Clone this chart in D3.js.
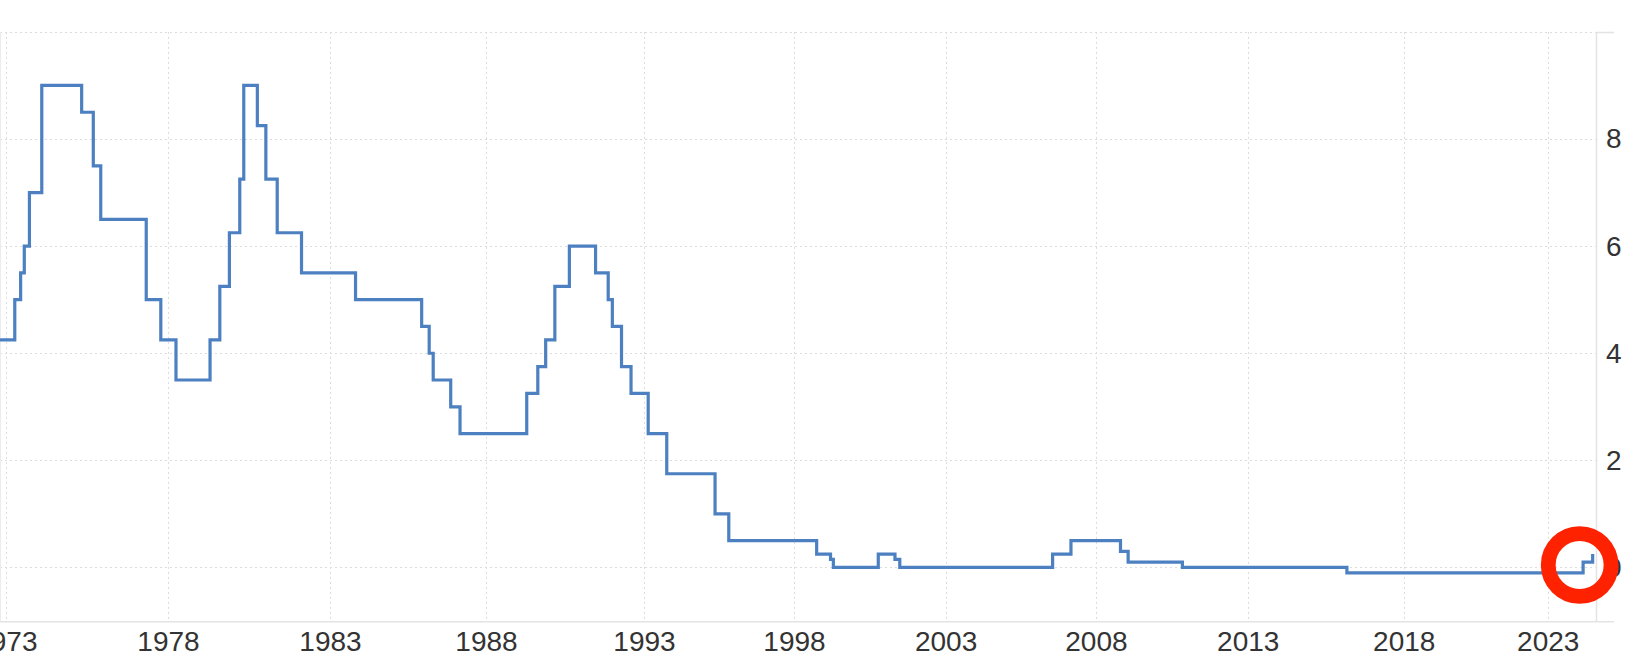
<!DOCTYPE html>
<html>
<head>
<meta charset="utf-8">
<script src="https://cdn.jsdelivr.net/npm/d3@7"></script>
<style>
  html, body { margin: 0; padding: 0; background: #fff; }
  svg { display: block; }
  text { font-family: "Liberation Sans", Arial, Helvetica, sans-serif; fill: #333; }
</style>
</head>
<body>
<svg id="chart" width="1642" height="670"></svg>
<script>
// ---- data: policy rate step changes (date of change, new rate %) ----
const changeDates = [
  "1972-07-01","1973-04-12","1973-06-17","1973-07-28","1973-09-24","1974-02-10",
  "1975-05-05","1975-09-13","1975-12-06","1977-05-01","1977-10-12","1978-04-01",
  "1979-04-20","1979-08-08","1979-11-24","1980-03-20","1980-05-04","1980-10-04",
  "1981-01-08","1981-05-16","1982-02-14","1983-10-27","1985-12-09","1986-03-07",
  "1986-04-23","1986-11-14","1987-03-03","1989-04-16","1989-08-22","1989-11-21",
  "1990-03-07","1990-08-22","1991-06-21","1991-11-14","1992-01-01","1992-04-16",
  "1992-08-04","1993-02-21","1993-10-05","1995-05-16","1995-10-30","1998-10-01",
  "1999-03-17","1999-04-20","2000-10-12","2001-05-01","2001-06-28","2006-07-24",
  "2007-03-04","2008-10-23","2009-01-23","2010-11-07","2016-03-07","2024-03-25",
  "2024-07-24"
];
const rateValues = [
  4.25, 5.00, 5.50, 6.00, 7.00, 9.00,
  8.50, 7.50, 6.50, 5.00, 4.25, 3.50,
  4.25, 5.25, 6.25, 7.25, 9.00, 8.25,
  7.25, 6.25, 5.50, 5.00, 4.50, 4.00,
  3.50, 3.00, 2.50, 3.25, 3.75, 4.25,
  5.25, 6.00, 5.50, 5.00, 4.50, 3.75,
  3.25, 2.50, 1.75, 1.00, 0.50, 0.25,
  0.15, 0.00, 0.25, 0.15, 0.00, 0.25,
  0.50, 0.30, 0.10, 0.00, -0.10, 0.10,
  0.25
];
const xTickYears = [1973,1978,1983,1988,1993,1998,2003,2008,2013,2018,2023];
const yTickValues = [0, 2, 4, 6, 8, 10];
const yTickLabels = ["0", "2", "4", "6", "8", ""];

// ---- layout ----
const W = 1642, H = 670;
const plot = { left: 0, right: 1596, top: 31.9, bottom: 621 };
// the source axis is ordinal-like: year ticks are not evenly spaced
const tickPixels = [5.8, 168, 330, 486, 644, 794, 945.6, 1095.9, 1247.7, 1403.7, 1547.7];

const parse = d3.timeParse("%Y-%m-%d");
const data = changeDates.map((d, i) => ({ date: parse(d), value: rateValues[i] }));
const tickDates = xTickYears.map(y => new Date(y, 0, 1));

const x = d3.scaleTime().domain(tickDates).range(tickPixels);
const y = d3.scaleLinear().domain([-1, 10]).range([plot.bottom, plot.top]);

const svg = d3.select("#chart");
svg.append("rect").attr("width", W).attr("height", H).attr("fill", "#fff");

const defs = svg.append("defs");
defs.append("clipPath").attr("id", "plotclip")
  .append("rect").attr("x", plot.left).attr("y", plot.top - 10)
  .attr("width", plot.right - plot.left).attr("height", plot.bottom - plot.top + 10);

// horizontal grid
svg.append("g").selectAll("line").data(yTickValues).join("line")
  .attr("x1", plot.left).attr("x2", plot.right)
  .attr("y1", d => Math.round(y(d)) + 0.5).attr("y2", d => Math.round(y(d)) + 0.5)
  .attr("stroke", "#dcdcdc").attr("stroke-width", 1).attr("stroke-dasharray", "2,3");

// vertical grid
svg.append("g").selectAll("line").data(tickDates).join("line")
  .attr("x1", d => Math.round(x(d)) + 0.5).attr("x2", d => Math.round(x(d)) + 0.5)
  .attr("y1", plot.top).attr("y2", plot.bottom)
  .attr("stroke", "#dcdcdc").attr("stroke-width", 1).attr("stroke-dasharray", "2,3");

// left faint border
svg.append("line").attr("x1", 0.5).attr("x2", 0.5).attr("y1", plot.top).attr("y2", plot.bottom)
  .attr("stroke", "#ececec").attr("stroke-width", 1);

// x axis (bottom)
const xAxis = d3.axisBottom(x).tickValues(tickDates).tickFormat(d3.timeFormat("%Y")).tickSize(0).tickPadding(10);
const gx = svg.append("g").attr("transform", `translate(0,${plot.bottom})`).call(xAxis);
gx.select(".domain").remove();
gx.selectAll("text").attr("font-size", 28).attr("fill", "#333")
  .attr("font-family", "'Liberation Sans', Arial, sans-serif");
svg.append("line").attr("x1", 0).attr("x2", 1614)
  .attr("y1", plot.bottom + 0.75).attr("y2", plot.bottom + 0.75)
  .attr("stroke", "#e3e3e3").attr("stroke-width", 1.5);

// y axis (right)
const yAxis = d3.axisRight(y).tickValues(yTickValues).tickFormat((d, i) => yTickLabels[i]).tickSize(0).tickPadding(10);
const gy = svg.append("g").attr("transform", `translate(${plot.right},0)`).call(yAxis);
gy.select(".domain").remove();
gy.selectAll("text").attr("font-size", 28).attr("fill", "#333")
  .attr("font-family", "'Liberation Sans', Arial, sans-serif");
svg.append("line").attr("x1", plot.right + 0.5).attr("x2", plot.right + 0.5)
  .attr("y1", plot.top).attr("y2", plot.bottom)
  .attr("stroke", "#e3e3e3").attr("stroke-width", 1.5);
svg.append("line").attr("x1", plot.right).attr("x2", 1614)
  .attr("y1", Math.round(y(10)) + 0.5).attr("y2", Math.round(y(10)) + 0.5)
  .attr("stroke", "#e3e3e3").attr("stroke-width", 1.5);

// the step line
const line = d3.line().curve(d3.curveStepAfter)
  .x(d => x(d.date)).y(d => y(d.value));
svg.append("path").datum(data)
  .attr("clip-path", "url(#plotclip)")
  .attr("d", line)
  .attr("fill", "none").attr("stroke", "#4c80c1").attr("stroke-width", 3.2)
  .attr("stroke-linejoin", "miter").attr("stroke-linecap", "butt");

// highlight ring round the latest reading
const last = data[data.length - 1];
svg.append("circle")
  .attr("cx", x(last.date) - 13).attr("cy", y(last.value) + 11)
  .attr("r", 31.4)
  .attr("fill", "none").attr("stroke", "#ff2200").attr("stroke-width", 14.8);
</script>
</body>
</html>
